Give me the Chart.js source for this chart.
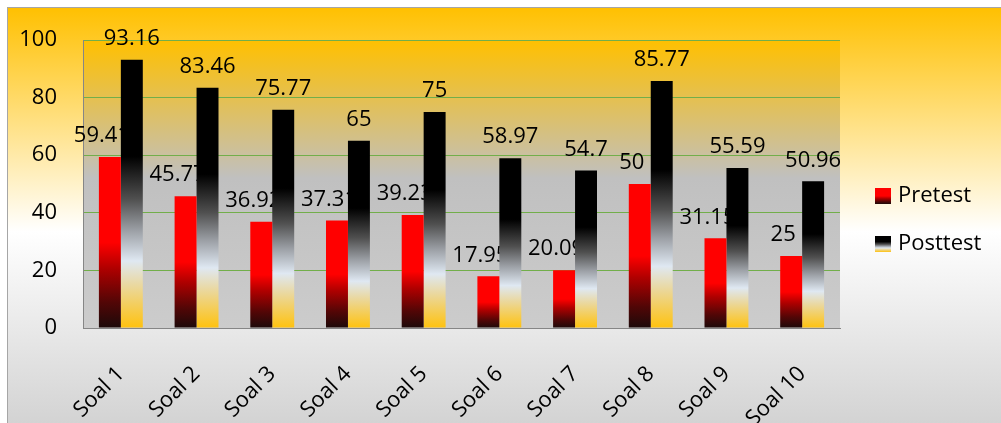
<!DOCTYPE html>
<html>
<head>
<meta charset="utf-8">
<script src="https://cdn.jsdelivr.net/npm/chart.js@4/dist/chart.umd.min.js"></script>
<style>
  html, body { margin: 0; padding: 0; background: #fff; }
  #wrap { width: 1001px; height: 423px; }
</style>
</head>
<body>
<div id="wrap"><canvas id="soalChart" width="1001" height="423"></canvas></div>
<script>
const categories = ["Soal 1", "Soal 2", "Soal 3", "Soal 4", "Soal 5", "Soal 6", "Soal 7", "Soal 8", "Soal 9", "Soal 10"];
const pretest = [59.41, 45.77, 36.92, 37.31, 39.23, 17.95, 20.09, 50, 31.15, 25];
const posttest = [93.16, 83.46, 75.77, 65, 75, 58.97, 54.7, 85.77, 55.59, 50.96];
const yTicks = [0, 20, 40, 60, 80, 100];

// gradient stops (top of bar -> bottom of bar)
const preStops = [[0, "#FF0000"], [0.5, "#FF0000"], [0.65, "#B00000"], [0.85, "#520606"], [1, "#1C0A0A"]];
const postStops = [[0, "#000000"], [0.36, "#000000"], [0.52, "#505050"], [0.64, "#9EA2A8"], [0.75, "#DFE8F2"], [0.84, "#EAD8A0"], [1, "#FFC20E"]];

Chart.defaults.font.family = "'Open Sans', sans-serif";
Chart.defaults.font.size = 22;
Chart.defaults.color = "#000";

function barGradient(stops, solid) {
    return (ctx) => {
        if (ctx.type !== "data") return solid;
        const chart = ctx.chart;
        const y = chart.scales.y;
        if (!chart.chartArea || !y) return solid;
        const top = y.getPixelForValue(ctx.raw);
        const bottom = y.getPixelForValue(0);
        const g = chart.ctx.createLinearGradient(0, top, 0, bottom);
        stops.forEach(([o, c]) => g.addColorStop(o, c));
        return g;
    };
}

function fillStops(g, stops) {
    stops.forEach(([o, c]) => g.addColorStop(o, c));
    return g;
}

function drawValues(chart, index, dx) {
    const meta = chart.getDatasetMeta(index);
    const values = chart.data.datasets[index].data;
    const ctx = chart.ctx;
    ctx.save();
    ctx.font = "22px 'Open Sans'";
    ctx.fillStyle = "#000";
    ctx.textAlign = "center";
    ctx.textBaseline = "middle";
    meta.data.forEach((bar, i) => ctx.fillText(String(values[i]), bar.x + dx, bar.y - 21));
    ctx.restore();
}

const backdrop = {
    id: "backdrop",
    beforeDraw(chart) {
        const { ctx, width, height, chartArea: a } = chart;
        ctx.save();
        ctx.fillStyle = "#fff";
        ctx.fillRect(0, 0, width, height);
        // outer frame
        ctx.fillStyle = fillStops(ctx.createLinearGradient(0, 7, 0, height),
            [[0, "#FFC000"], [0.54, "#FFFFFF"], [1, "#D3D3D3"]]);
        ctx.fillRect(7, 7, width, height);
        ctx.strokeStyle = "#A6A6A6";
        ctx.lineWidth = 1;
        ctx.beginPath();
        ctx.moveTo(7.5, height);
        ctx.lineTo(7.5, 7.5);
        ctx.lineTo(width, 7.5);
        ctx.stroke();
        // plot area
        ctx.fillStyle = fillStops(ctx.createLinearGradient(0, a.top, 0, a.bottom),
            [[0, "#FFC000"], [0.48, "#C0C0C0"], [1, "#CCCCCC"]]);
        ctx.fillRect(a.left, a.top, a.right - a.left, a.bottom - a.top);
        ctx.restore();
    },
    beforeDatasetsDraw(chart) {
        // pretest labels sit behind the posttest bars
        drawValues(chart, 0, -8);
    },
    afterDatasetsDraw(chart) {
        drawValues(chart, 1, 0);
    },
    afterDraw(chart) {
        // gradient legend boxes
        const legend = chart.legend;
        if (!legend || !legend.legendHitBoxes) return;
        const ctx = chart.ctx;
        [preStops, postStops].forEach((stops, i) => {
            const hb = legend.legendHitBoxes[i];
            if (!hb) return;
            const top = hb.top + 3;
            ctx.fillStyle = fillStops(ctx.createLinearGradient(0, top, 0, top + 16), stops);
            ctx.fillRect(hb.left, top, 16, 16);
        });
    }
};

const legendSpot = {
    id: "legendSpot",
    afterInit(chart) {
        const legend = chart.legend;
        const fit = legend.fit;
        legend.fit = function () {
            fit.call(this);
            this.width = 161;
        };
    },
    afterLayout(chart) {
        chart.legend.left += 9;
        chart.legend.top -= 23;
    }
};

new Chart(document.getElementById("soalChart"), {
    type: "bar",
    data: {
        labels: categories,
        datasets: [
            {
                label: "Pretest",
                data: pretest,
                backgroundColor: barGradient(preStops, "#FF0000"),
                borderWidth: 0,
                categoryPercentage: 0.58,
                barPercentage: 1,
            },
            {
                label: "Posttest",
                data: posttest,
                backgroundColor: barGradient(postStops, "#000000"),
                borderWidth: 0,
                categoryPercentage: 0.58,
                barPercentage: 1,
            },
        ],
    },
    options: {
        responsive: false,
        animation: false,
        layout: { padding: { top: 40, left: 0, right: 0, bottom: 0 } },
        plugins: {
            legend: {
                position: "right",
                labels: { boxWidth: 12, boxHeight: 16, padding: 26, color: "#000" },
            },
            tooltip: { enabled: false },
        },
        scales: {
            x: {
                grid: { display: false },
                border: { display: true, color: "#868686", width: 1 },
                ticks: { minRotation: 45, maxRotation: 45, padding: 25, autoSkip: false },
                afterFit: (s) => { s.height = 95; },
            },
            y: {
                min: 0,
                max: 100,
                afterBuildTicks: (s) => { s.ticks = yTicks.map((v) => ({ value: v })); },
                grid: { color: "#72AE4A", lineWidth: 1, drawTicks: false },
                border: { display: true, color: "#868686", width: 1 },
                ticks: { padding: 26 },
                afterFit: (s) => { s.width = 83; },
            },
        },
    },
    plugins: [backdrop, legendSpot],
});
</script>
</body>
</html>
